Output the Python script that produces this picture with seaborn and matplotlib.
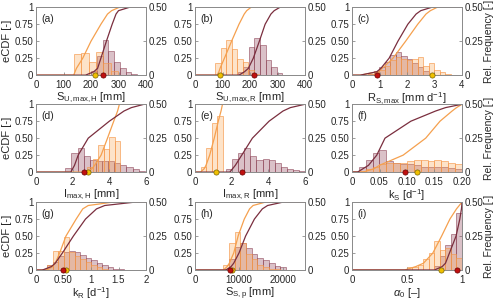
import numpy as np
import matplotlib
matplotlib.use("Agg")
import matplotlib.pyplot as plt
import seaborn as sns

# ==================================================
# DATA
# ==================================================

# eCDF levels shared by every panel, x-values are the quantiles
levels = [0, 0.05, 0.1, 0.25, 0.5, 0.75, 0.9, 0.95, 1]

panel_tags = ["(a)", "(b)", "(c)", "(d)", "(e)", "(f)", "(g)", "(h)", "(i)"]
x_labels = [
    r"S$_{\rm U,max,H}$ [mm]",
    r"S$_{\rm U,max,R}$ [mm]",
    r"R$_{\rm S,max}$ [mm d$^{-1}$]",
    r"I$_{\rm max,H}$ [mm]",
    r"I$_{\rm max,R}$ [mm]",
    r"k$_{\rm S}$ [d$^{-1}$]",
    r"k$_{\rm R}$ [d$^{-1}$]",
    r"S$_{\rm S,p}$ [mm]",
    r"$\alpha_0$ [–]",
]
x_limits = [(0, 400), (0, 400), (0, 4), (0, 6), (0, 6), (0, 0.2), (0, 2), (0, 25000), (0, 1)]
x_ticks = [
    [0, 100, 200, 300, 400],
    [0, 100, 200, 300, 400],
    [0, 1, 2, 3, 4],
    [0, 2, 4, 6],
    [0, 2, 4, 6],
    [0, 0.05, 0.10, 0.15, 0.20],
    [0, 0.5, 1, 1.5, 2],
    [0, 10000, 20000],
    [0, 0.5, 1],
]
x_ticklabels = [
    ["0", "100", "200", "300", "400"],
    ["0", "100", "200", "300", "400"],
    ["0", "1", "2", "3", "4"],
    ["0", "2", "4", "6"],
    ["0", "2", "4", "6"],
    ["0", "0.05", "0.10", "0.15", "0.20"],
    ["0", "0.50", "1", "1.5", "2"],
    ["0", "10000", "20000"],
    ["0", "0.5", "1"],
]
cdf_ticks = [0, 0.25, 0.5, 0.75, 1]
cdf_ticklabels = ["0", "0.25", "0.50", "0.75", "1"]
freq_ticks = [0, 0.25, 0.5]
freq_ticklabels = ["0", "0.25", "0.50"]

# eCDF quantiles (orange = H, maroon = R)
cdf_orange = [
    [137, 142, 147, 170, 200, 236, 260, 275, 303],
    [80, 87, 91, 107, 133, 160, 179, 188, 204],
    [0.3, 0.95, 1.1, 1.49, 1.95, 2.39, 2.69, 2.85, 3.1],
    [2.8, 3.05, 3.2, 3.55, 3.9, 4.24, 4.45, 4.5, 4.55],
    [0.3, 0.5, 0.6, 0.8, 1.05, 1.27, 1.42, 1.46, 1.5],
    [0.02, 0.04, 0.05, 0.093, 0.134, 0.16, 0.182, 0.19, 0.2],
    [0.2, 0.3, 0.35, 0.43, 0.545, 0.73, 0.85, 0.95, 1.4],
    [6500, 7300, 7800, 8800, 9800, 11200, 12400, 13200, 16000],
    [0.48, 0.58, 0.65, 0.735, 0.815, 0.89, 0.95, 0.975, 1.0],
]
cdf_maroon = [
    [180, 210, 224, 236, 256, 277, 291, 300, 340],
    [160, 180, 194, 212, 234, 255, 276, 288, 309],
    [0.3, 0.9, 1.05, 1.35, 1.67, 2.03, 2.33, 2.5, 2.9],
    [1.9, 2.0, 2.1, 2.3, 2.85, 4.0, 4.8, 5.2, 5.9],
    [1.9, 2.05, 2.2, 2.55, 3.13, 4.04, 4.8, 5.2, 6.0],
    [0.01, 0.02, 0.03, 0.045, 0.06, 0.107, 0.152, 0.17, 0.2],
    [0.12, 0.28, 0.35, 0.48, 0.68, 0.9, 1.1, 1.25, 1.8],
    [7000, 8200, 8800, 10000, 11500, 13500, 15300, 16500, 20000],
    [0.75, 0.82, 0.85, 0.886, 0.946, 0.98, 0.995, 0.998, 1.0],
]

# histogram bin ranges and relative frequencies
hist_orange_range = [(137, 299), (73, 233), (0.6, 3.6), (2.8, 4.6), (0.3, 1.5),
                     (0, 0.2), (0.1, 1.3), (6400, 20700), (0.5, 1.0)]
hist_orange = [
    [0.155, 0.165, 0.10, 0.17, 0.09, 0.03],
    [0.09, 0.2, 0.26, 0.19, 0.12, 0.1, 0.04, 0.01],
    [0.01, 0.02, 0.04, 0.07, 0.11, 0.13, 0.12, 0.11, 0.12, 0.13, 0.07, 0.09, 0.04, 0.02, 0.01],
    [0.04, 0.1, 0.2, 0.17, 0.26, 0.23],
    [0.04, 0.18, 0.36, 0.41],
    [0, 0.005, 0.02, 0.04, 0.06, 0.07, 0.07, 0.07, 0.08, 0.09, 0.09, 0.08, 0.09, 0.08, 0.07, 0.06],
    [0.005, 0.04, 0.14, 0.14, 0.24, 0.13, 0.1, 0.08, 0.06, 0.04, 0.02, 0.01],
    [0.04, 0.2, 0.28, 0.2, 0.12, 0.08, 0.04, 0.02, 0.01, 0.005, 0.0],
    [0.02, 0.02, 0.04, 0.08, 0.125, 0.21, 0.15, 0.16, 0.12, 0.09],
]
hist_maroon_range = [(200, 368), (155, 318), (0.6, 3.0), (1.6, 5.93), (1.7, 6.0),
                     (0, 0.2), (0.1, 1.6), (6400, 20700), (0.75, 1.0)]
hist_maroon = [
    [0.03, 0.14, 0.26, 0.18, 0.10, 0.05, 0.02, 0.005],
    [0.025, 0.06, 0.21, 0.27, 0.22, 0.11, 0.06, 0.017],
    [0.01, 0.03, 0.06, 0.1, 0.15, 0.17, 0.14, 0.12, 0.09, 0.06, 0.03, 0.01],
    [0.03, 0.14, 0.18, 0.12, 0.09, 0.08, 0.08, 0.08, 0.07, 0.05, 0.035, 0.02, 0.01],
    [0.02, 0.1, 0.14, 0.18, 0.12, 0.09, 0.1, 0.09, 0.07, 0.04, 0.025, 0.015, 0.005],
    [0.01, 0.04, 0.09, 0.14, 0.16, 0.08, 0.07, 0.06, 0.06, 0.05, 0.04, 0.04, 0.04, 0.04, 0.03, 0.02],
    [0.01, 0.04, 0.06, 0.1, 0.13, 0.14, 0.13, 0.11, 0.09, 0.07, 0.05, 0.035, 0.02, 0.01, 0.005],
    [0.01, 0.08, 0.17, 0.2, 0.16, 0.12, 0.09, 0.07, 0.05, 0.03, 0.02],
    [0.03, 0.1, 0.185, 0.265, 0.42],
]

# calibrated parameter values (yellow = H, red = R)
dot_yellow = [216, 91, 2.9, 2.85, 1.13, 0.118, 0.545, 8480, 0.81]
dot_red = [242, 216, 0.92, 2.64, 2.55, 0.097, 0.485, 7950, 0.955]

# ==================================================
# STYLE
# ==================================================

sns.set_theme(style="ticks")
plt.rcParams["font.family"] = ["Liberation Sans", "DejaVu Sans"]
plt.rcParams["mathtext.fontset"] = "custom"
plt.rcParams["mathtext.rm"] = "Liberation Sans"
plt.rcParams["mathtext.it"] = "Liberation Sans:italic"

c_orange = "#F5A04E"
c_maroon = "#7A2E3E"
c_spine = "#8c8c8c"

fig = plt.figure(figsize=(5, 3.03), dpi=100)

lefts = [0.072, 0.39, 0.704]
bottoms = [0.752, 0.432, 0.109]
w, h = 0.22, 0.224

for i in range(9):
    row, col = divmod(i, 3)
    ax = fig.add_axes([lefts[col], bottoms[row], w, h])
    ax2 = ax.twinx()
    ax.set_zorder(ax2.get_zorder() + 1)
    ax.patch.set_visible(False)

    # histograms on right axis
    for rng, freq, fc, ec in [
        (hist_maroon_range[i], hist_maroon[i], (0.55, 0.25, 0.33, 0.32), (0.55, 0.25, 0.33, 0.55)),
        (hist_orange_range[i], hist_orange[i], (0.98, 0.66, 0.35, 0.32), (0.96, 0.6, 0.3, 0.65)),
    ]:
        edges = np.linspace(rng[0], rng[1], len(freq) + 1)
        centers = (edges[:-1] + edges[1:]) / 2
        sns.histplot(x=list(centers), weights=freq, bins=list(edges), ax=ax2,
                     facecolor=fc, edgecolor=ec, linewidth=0.7)

    xmin, xmax = x_limits[i]
    # eCDF lines on left axis
    for q, col_ in [(cdf_orange[i], c_orange), (cdf_maroon[i], c_maroon)]:
        xs = [xmin] + q + [xmax]
        ys = [0] + levels + [1]
        sns.lineplot(x=xs, y=ys, ax=ax, color=col_, lw=0.9,
                     sort=False, estimator=None)

    sns.scatterplot(x=[dot_yellow[i]], y=[0], ax=ax, color="#F0C000",
                    edgecolor="#7a6400", s=14, linewidth=0.5, zorder=10, clip_on=False)
    sns.scatterplot(x=[dot_red[i]], y=[0], ax=ax, color="#C01010",
                    edgecolor="#6a0000", s=14, linewidth=0.5, zorder=10, clip_on=False)

    ax.set_xlim(xmin, xmax)
    ax2.set_xlim(xmin, xmax)
    ax.set_ylim(0, 1)
    ax2.set_ylim(0, 0.5)

    ax.set_xticks(x_ticks[i])
    ax.set_xticklabels(x_ticklabels[i])
    ax.set_yticks(cdf_ticks)
    ax.set_yticklabels(cdf_ticklabels)
    ax2.set_yticks(freq_ticks)
    ax2.set_yticklabels(freq_ticklabels)

    for a in (ax, ax2):
        a.tick_params(direction="in", length=2.5, width=0.6, color=c_spine,
                      labelsize=7, pad=2)
        for s in a.spines.values():
            s.set_visible(True)
            s.set_color(c_spine)
            s.set_linewidth(0.7)
    ax.tick_params(axis="x", pad=3.5)

    ax.set_xlabel(x_labels[i], fontsize=8, labelpad=0.5)
    ax2.set_xlabel("")
    ax2.set_ylabel("")
    ax.set_ylabel("")
    if col == 0:
        ax.set_ylabel("eCDF [-]", fontsize=8, labelpad=2)
    if col == 2:
        ax2.set_ylabel("Rel. Frequency [-]", fontsize=7.5, labelpad=0.5)

    ax.text(0.05, 0.9, panel_tags[i], transform=ax.transAxes,
            fontsize=7.5, va="top", ha="left")

fig.savefig("out.png", dpi=100)
